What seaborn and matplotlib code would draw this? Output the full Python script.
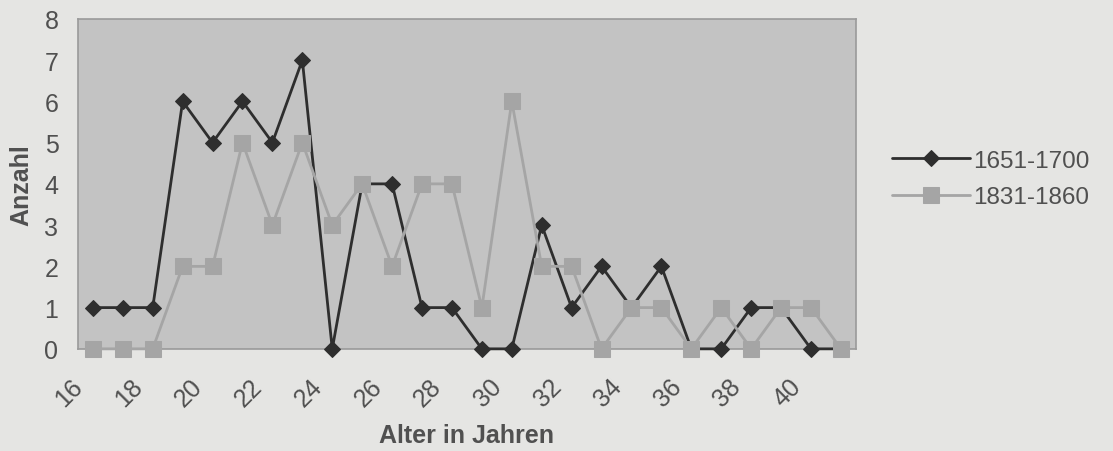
import numpy as np
import matplotlib
matplotlib.use('Agg')
import matplotlib.pyplot as plt
import matplotlib.transforms as mtransforms
import pandas as pd
import seaborn as sns

alter = list(range(16, 42))
s1651 = [1, 1, 1, 6, 5, 6, 5, 7, 0, 4, 4, 1, 1, 0, 0, 3, 1, 2, 1, 2, 0, 0, 1, 1, 0, 0]
s1831 = [0, 0, 0, 2, 2, 5, 3, 5, 3, 4, 2, 4, 4, 1, 6, 2, 2, 0, 1, 1, 0, 1, 0, 1, 1, 0]
tick_labels = [str(a) for a in range(16, 41, 2)]

df = pd.DataFrame({'Alter': alter, '1651-1700': s1651, '1831-1860': s1831})

sns.set_theme(style='white')
plt.rcParams['font.family'] = ['Liberation Sans', 'DejaVu Sans']

bg = '#e5e5e3'
txt = '#505050'
fig = plt.figure(figsize=(11.13, 4.52), dpi=100, facecolor=bg)
ax = fig.add_axes([0.070, 0.226, 0.699, 0.730])
ax.set_facecolor('#c3c3c3')

sns.lineplot(data=df, x='Alter', y='1651-1700', ax=ax, color='#2e2e2e', lw=2,
             marker='D', markersize=8, markeredgecolor='#2e2e2e', label='1651-1700',
             clip_on=False, zorder=3)
sns.lineplot(data=df, x='Alter', y='1831-1860', ax=ax, color='#a5a5a5', lw=2,
             marker='s', markersize=11, markeredgecolor='#a5a5a5', label='1831-1860',
             clip_on=False, zorder=4)

ax.set_xlim(15.5, 41.5)
ax.set_ylim(0, 8)
ax.set_yticks(range(0, 9))
ax.set_xticks(range(16, 41, 2))
ax.set_xticklabels(tick_labels, rotation=45, ha='right', va='center', rotation_mode='anchor')
ax.tick_params(axis='both', labelsize=18, labelcolor=txt, length=0)
ax.tick_params(axis='x', pad=24)
ax.tick_params(axis='y', pad=14)
shift = mtransforms.ScaledTranslation(-0.14, 0, fig.dpi_scale_trans)
for lab in ax.get_xticklabels():
    lab.set_transform(lab.get_transform() + shift)

for sp in ax.spines.values():
    sp.set_color('#9a9a9a')
    sp.set_linewidth(1.2)

ax.set_xlabel('Alter in Jahren', fontsize=18, fontweight='bold', color=txt, labelpad=9)
ax.set_ylabel('Anzahl', fontsize=18, fontweight='bold', color=txt, labelpad=8)

ax.legend(loc='center left', bbox_to_anchor=(1.018, 0.515), frameon=False,
          fontsize=17.5, labelcolor=txt, handlelength=3.2, handletextpad=0.15,
          labelspacing=0.6)

fig.savefig('out.png', dpi=100, facecolor=bg)
